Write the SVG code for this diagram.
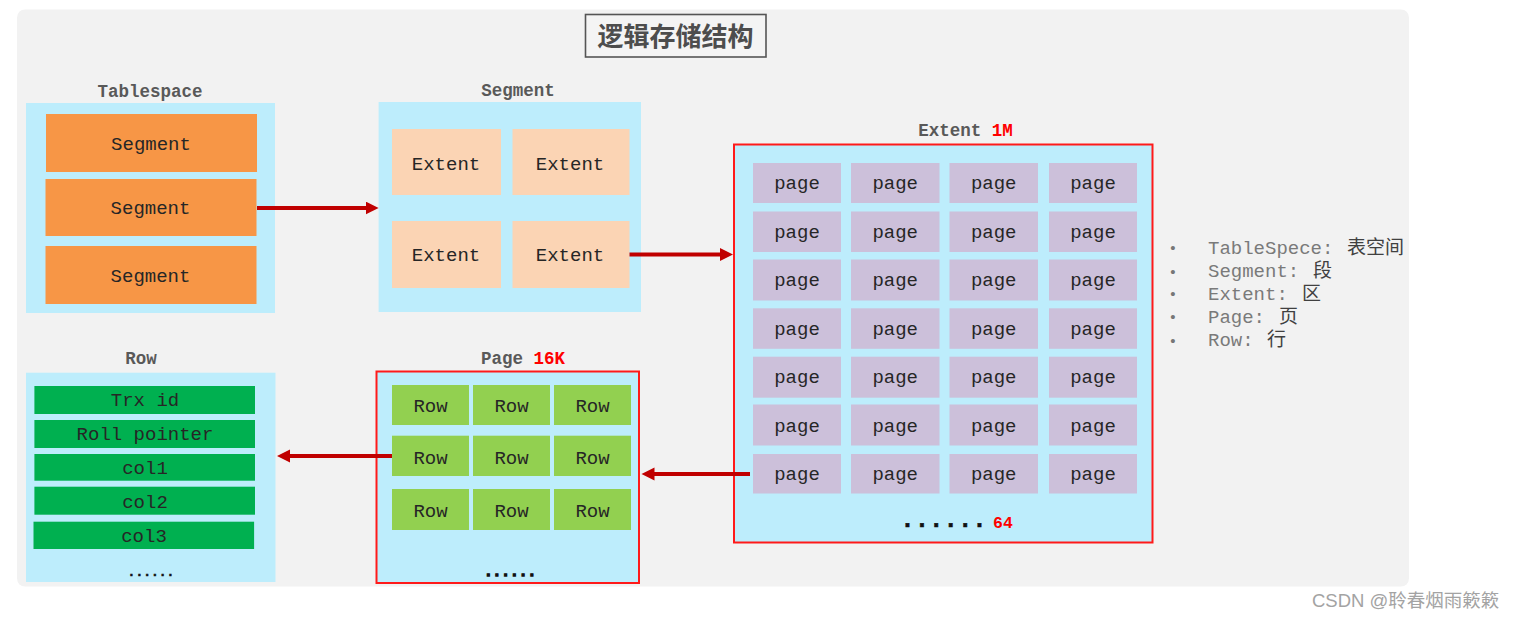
<svg xmlns="http://www.w3.org/2000/svg" width="1518" height="618" viewBox="0 0 1518 618">
<defs>
<style>
.bg{fill:#F2F2F2}
.blue{fill:#BDEDFC}
.redbox{fill:#BDEDFC;stroke:#FF1A1A;stroke-width:2}
.seg{fill:#F79646}
.ext{fill:#FBD4B4}
.page{fill:#CCC0DA}
.grn{fill:#00B050}
.lgrn{fill:#92D050}
.t{font-family:"Liberation Mono","Courier New",monospace;font-size:19px;fill:#262626;text-anchor:middle}
.lbl{font-family:"Liberation Mono","Courier New",monospace;font-size:17.5px;font-weight:bold;fill:#595959;text-anchor:middle}
.red{fill:#FF0000}
.dots{font-family:"Liberation Mono",monospace;font-weight:bold;fill:#111;stroke:#111;text-anchor:middle}
.leg{font-family:"Liberation Mono",monospace;font-size:19px;fill:#7a7a7a}
.cjk{font-family:"Noto Sans CJK SC",sans-serif;font-size:19px;fill:#404040}
.conn{stroke:#C00000;stroke-width:4;fill:none}
</style>
<marker id="ah" markerUnits="userSpaceOnUse" markerWidth="14" markerHeight="14" refX="3" refY="6.5" orient="auto">
<path d="M0,0 L13,6.5 L0,13 Z" fill="#C00000"/>
</marker>
</defs>
<rect class="bg" x="17" y="9.5" width="1392" height="577" rx="8"/>

<g id="title">
<rect x="585.5" y="14.5" width="180.5" height="42.5" fill="#F4F4F4" stroke="#555" stroke-width="1.6"/>
<text x="675.5" y="45.5" font-family="'Noto Sans CJK SC',sans-serif" font-size="26" font-weight="bold" fill="#4d4d4d" text-anchor="middle">逻辑存储结构</text>
</g>

<g id="tablespace">
<text class="lbl" x="150" y="97">Tablespace</text>
<rect class="blue" x="26" y="103" width="249" height="210"/>
<rect class="seg" x="46" y="114" width="211" height="58"/>
<rect class="seg" x="45.5" y="179" width="211" height="57"/>
<rect class="seg" x="45.5" y="246" width="211" height="58"/>
<text class="t" x="151" y="149.5">Segment</text>
<text class="t" x="150.5" y="214">Segment</text>
<text class="t" x="150.5" y="281.5">Segment</text>
</g>

<g id="segment">
<text class="lbl" x="518" y="96">Segment</text>
<rect class="blue" x="378.6" y="102" width="262.4" height="210"/>
<rect class="ext" x="392" y="129" width="109" height="66"/>
<rect class="ext" x="512.5" y="129" width="117" height="66"/>
<rect class="ext" x="392" y="221" width="109" height="67"/>
<rect class="ext" x="512.5" y="221" width="117" height="67"/>
<text class="t" x="446" y="169.5">Extent</text>
<text class="t" x="570" y="169.5">Extent</text>
<text class="t" x="446" y="261">Extent</text>
<text class="t" x="570" y="261">Extent</text>
</g>

<g id="extent">
<text class="lbl" x="965.5" y="136">Extent <tspan class="red">1M</tspan></text>
<rect class="redbox" x="734" y="144.5" width="418.5" height="398"/>
<g class="page">
<rect x="753" y="163" width="88" height="40"/><rect x="851" y="163" width="88.5" height="40"/><rect x="949.5" y="163" width="88.5" height="40"/><rect x="1049" y="163" width="88" height="40"/>
<rect x="753" y="211.5" width="88" height="40.5"/><rect x="851" y="211.5" width="88.5" height="40.5"/><rect x="949.5" y="211.5" width="88.5" height="40.5"/><rect x="1049" y="211.5" width="88" height="40.5"/>
<rect x="753" y="259.5" width="88" height="41"/><rect x="851" y="259.5" width="88.5" height="41"/><rect x="949.5" y="259.5" width="88.5" height="41"/><rect x="1049" y="259.5" width="88" height="41"/>
<rect x="753" y="308.3" width="88" height="40.5"/><rect x="851" y="308.3" width="88.5" height="40.5"/><rect x="949.5" y="308.3" width="88.5" height="40.5"/><rect x="1049" y="308.3" width="88" height="40.5"/>
<rect x="753" y="356.7" width="88" height="41"/><rect x="851" y="356.7" width="88.5" height="41"/><rect x="949.5" y="356.7" width="88.5" height="41"/><rect x="1049" y="356.7" width="88" height="41"/>
<rect x="753" y="404.5" width="88" height="41"/><rect x="851" y="404.5" width="88.5" height="41"/><rect x="949.5" y="404.5" width="88.5" height="41"/><rect x="1049" y="404.5" width="88" height="41"/>
<rect x="753" y="454" width="88" height="39.5"/><rect x="851" y="454" width="88.5" height="39.5"/><rect x="949.5" y="454" width="88.5" height="39.5"/><rect x="1049" y="454" width="88" height="39.5"/>
</g>
<g class="t">
<text x="797" y="189.3">page</text><text x="895.2" y="189.3">page</text><text x="993.7" y="189.3">page</text><text x="1093" y="189.3">page</text>
<text x="797" y="237.7">page</text><text x="895.2" y="237.7">page</text><text x="993.7" y="237.7">page</text><text x="1093" y="237.7">page</text>
<text x="797" y="286.3">page</text><text x="895.2" y="286.3">page</text><text x="993.7" y="286.3">page</text><text x="1093" y="286.3">page</text>
<text x="797" y="334.5">page</text><text x="895.2" y="334.5">page</text><text x="993.7" y="334.5">page</text><text x="1093" y="334.5">page</text>
<text x="797" y="383">page</text><text x="895.2" y="383">page</text><text x="993.7" y="383">page</text><text x="1093" y="383">page</text>
<text x="797" y="431.5">page</text><text x="895.2" y="431.5">page</text><text x="993.7" y="431.5">page</text><text x="1093" y="431.5">page</text>
<text x="797" y="480">page</text><text x="895.2" y="480">page</text><text x="993.7" y="480">page</text><text x="1093" y="480">page</text>
</g>
<text class="dots" x="943.5" y="527" font-size="24" stroke-width="0.6">......</text>
<text x="993" y="528" font-family="'Liberation Mono',monospace" font-size="16.5" font-weight="bold" fill="#FF0000">64</text>
</g>

<g id="row">
<text class="lbl" x="141" y="364">Row</text>
<rect class="blue" x="26" y="372.7" width="249.5" height="209.3"/>
<rect class="grn" x="34.4" y="386" width="220.6" height="28"/>
<rect class="grn" x="34.4" y="420" width="220.6" height="28"/>
<rect class="grn" x="34.4" y="454" width="220.6" height="26.7"/>
<rect class="grn" x="34.4" y="486.7" width="220.6" height="28"/>
<rect class="grn" x="33.5" y="521.7" width="220.6" height="27.3"/>
<text class="t" x="145" y="405.5">Trx id</text>
<text class="t" x="145" y="439.5">Roll pointer</text>
<text class="t" x="145" y="473.5">col1</text>
<text class="t" x="145" y="507.5">col2</text>
<text class="t" x="144" y="541.5">col3</text>
<text class="dots" x="151" y="576" font-size="13" stroke-width="0.5">......</text>
</g>

<g id="page">
<text class="lbl" x="523" y="364">Page <tspan class="red">16K</tspan></text>
<rect class="redbox" x="376.5" y="371.5" width="262.5" height="211.5"/>
<rect class="lgrn" x="392" y="385" width="77" height="40"/>
<rect class="lgrn" x="473" y="385" width="77" height="40"/>
<rect class="lgrn" x="554" y="385" width="77" height="40"/>
<rect class="lgrn" x="392" y="435.7" width="77" height="40.3"/>
<rect class="lgrn" x="473" y="435.7" width="77" height="40.3"/>
<rect class="lgrn" x="554" y="435.7" width="77" height="40.3"/>
<rect class="lgrn" x="392" y="489" width="77" height="41"/>
<rect class="lgrn" x="473" y="489" width="77" height="41"/>
<rect class="lgrn" x="554" y="489" width="77" height="41"/>
<text class="t" x="430.5" y="412">Row</text><text class="t" x="511.5" y="412">Row</text><text class="t" x="592.5" y="412">Row</text>
<text class="t" x="430.5" y="463.5">Row</text><text class="t" x="511.5" y="463.5">Row</text><text class="t" x="592.5" y="463.5">Row</text>
<text class="t" x="430.5" y="517">Row</text><text class="t" x="511.5" y="517">Row</text><text class="t" x="592.5" y="517">Row</text>
<text class="dots" x="510" y="576" font-size="14.5" stroke-width="1.3">......</text>
</g>

<g id="legend">
<g font-family="'Liberation Sans',sans-serif" font-size="15" fill="#777" text-anchor="middle">
<text x="1173" y="253">•</text><text x="1173" y="276.5">•</text><text x="1173" y="299">•</text><text x="1173" y="322">•</text><text x="1173" y="345.5">•</text>
</g>
<text class="leg" x="1208" y="254">TableSpece:</text><text class="cjk" x="1347" y="254">表空间</text>
<text class="leg" x="1208" y="277">Segment:</text><text class="cjk" x="1313" y="277">段</text>
<text class="leg" x="1208" y="300">Extent:</text><text class="cjk" x="1302" y="300">区</text>
<text class="leg" x="1208" y="323">Page:</text><text class="cjk" x="1279" y="323">页</text>
<text class="leg" x="1208" y="346">Row:</text><text class="cjk" x="1267" y="346">行</text>
</g>

<g id="connectors">
<line class="conn" x1="257" y1="208" x2="368.6" y2="208" marker-end="url(#ah)"/>
<line class="conn" x1="629.5" y1="254.5" x2="723" y2="254.5" marker-end="url(#ah)"/>
<line class="conn" x1="392" y1="456" x2="287" y2="456" marker-end="url(#ah)"/>
<line class="conn" x1="750" y1="474" x2="651.5" y2="474" marker-end="url(#ah)"/>
</g>

<text x="1312" y="607" font-family="'Liberation Sans','Noto Sans CJK SC',sans-serif" font-size="18.5" fill="#a3a3a3">CSDN @聆春烟雨簌簌</text>
</svg>
